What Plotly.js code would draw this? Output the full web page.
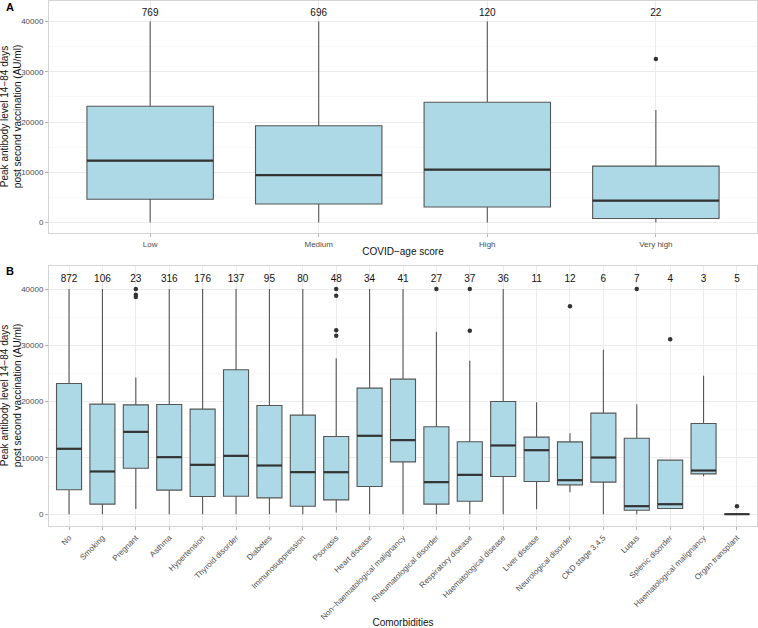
<!DOCTYPE html>
<html>
<head>
<meta charset="utf-8">
<script src="https://cdn.plot.ly/plotly-3.0.1.min.js"></script>
<style>html,body{margin:0;padding:0;background:#fff;}#chart{width:758px;height:628px;}</style>
</head>
<body>
<div id="chart"></div>
<script>
// ---- Panel A: COVID-age score ----
const ageCats = ["Low", "Medium", "High", "Very high"];
const ageN = [769, 696, 120, 22];
const ageQ1 = [4620, 3690, 3100, 790];
const ageMed = [12300, 9440, 10520, 4360];
const ageQ3 = [23140, 19250, 23930, 11230];
const ageLo = [0, 0, 0, 0];
const ageHi = [40000, 40000, 40000, 22420];
const ageOutCat = [3];
const ageOutVal = [32540];

// ---- Panel B: Comorbidities ----
const comCats = ["No", "Smoking", "Pregnant", "Asthma", "Hypertension", "Thyroid disorder", "Diabetes",
  "Immunosuppression", "Psoriasis", "Heart disease", "Non−haematological malignancy",
  "Rheumatological disorder", "Respiratory disease", "Haematological disease", "Liver disease",
  "Neurological disorder", "CKD stage 3,4,5", "Lupus", "Splenic disorder",
  "Haematological malignancy", "Organ transplant"];
const comN = [872, 106, 23, 316, 176, 137, 95, 80, 48, 34, 41, 27, 37, 36, 11, 12, 6, 7, 4, 3, 5];
const comQ1 = [4330, 1780, 8170, 4270, 3140, 3200, 2900, 1420, 2540, 4920, 9300, 1780, 2310, 6700, 5800, 5210, 5690, 710, 1000, 7160, 0];
const comMed = [11620, 7590, 14630, 10130, 8770, 10370, 8650, 7470, 7460, 13930, 13160, 5690, 6990, 12210, 11370, 6040, 10070, 1420, 1770, 7760, 0];
const comQ3 = [23230, 19560, 19430, 19500, 18670, 25660, 19320, 17600, 13800, 22400, 24000, 15530, 12860, 20030, 13690, 12850, 17950, 13500, 9600, 16110, 0];
const comLo = [0, 0, 940, 0, 0, 0, 0, 0, 290, 0, 0, 0, 0, 0, 890, 3910, 0, 0, 1000, 6750, 0];
const comHi = [40000, 40000, 24290, 40000, 40000, 40000, 40000, 40000, 27730, 40000, 40000, 32420, 27260, 40000, 19910, 14400, 29200, 19550, 9600, 24590, 0];
const comOutCat = [2, 2, 2, 8, 8, 8, 8, 11, 12, 12, 15, 17, 18, 20];
const comOutVal = [40000, 38990, 38580, 40000, 38810, 32700, 31700, 40000, 40000, 32590, 36970, 40000, 31100, 1420];

const yTitleText = 'Peak antibody level 14−84 days<br>post second vaccination (AU/ml)';
const countY = 41700;
const boxW = 0.75;
const FONT = '"Liberation Sans", Arial, Helvetica, sans-serif';

function idx(arr) { return arr.map((_, i) => i); }

function panelTraces(cats, n, q1, med, q3, lo, hi, outCat, outVal, xa, ya) {
  const xs = idx(cats);
  const mx = [], my = [];
  xs.forEach((x, i) => { mx.push(x - boxW / 2, x + boxW / 2, null); my.push(med[i], med[i], null); });
  return [
    {type: 'box', x: xs, q1: q1, median: med, q3: q3, lowerfence: lo, upperfence: hi,
     width: boxW, whiskerwidth: 0, boxpoints: false, fillcolor: '#ADD8E6',
     line: {color: '#555555', width: 1.1}, xaxis: xa, yaxis: ya, hoverinfo: 'skip', showlegend: false},
    {type: 'scatter', mode: 'lines', x: mx, y: my, line: {color: '#333333', width: 2.2},
     xaxis: xa, yaxis: ya, hoverinfo: 'skip', showlegend: false},
    {type: 'scatter', mode: 'markers', x: outCat, y: outVal,
     marker: {color: '#333333', size: 4.5}, xaxis: xa, yaxis: ya, hoverinfo: 'skip', showlegend: false},
    {type: 'scatter', mode: 'text', x: xs, y: xs.map(() => countY), text: n.map(String),
     textposition: 'middle center', textfont: {size: 10, color: '#111111', family: FONT},
     cliponaxis: false, xaxis: xa, yaxis: ya, hoverinfo: 'skip', showlegend: false}
  ];
}

const data = [].concat(
  panelTraces(ageCats, ageN, ageQ1, ageMed, ageQ3, ageLo, ageHi, ageOutCat, ageOutVal, 'x', 'y'),
  panelTraces(comCats, comN, comQ1, comMed, comQ3, comLo, comHi, comOutCat, comOutVal, 'x2', 'y2')
);

const yCommon = {
  range: [-2100, 44100], tickvals: [0, 10000, 20000, 30000, 40000], ticktext: ['0', '10000', '20000', '30000', '40000'],
  showgrid: true, gridcolor: '#ebebeb', gridwidth: 1, zeroline: false,
  minor: {tick0: 5000, dtick: 10000, showgrid: true, gridcolor: '#f5f5f5', gridwidth: 0.6, ticks: ''},
  showline: true, mirror: true, linecolor: '#d4d4d4', linewidth: 1,
  ticks: 'outside', ticklen: 3, tickcolor: '#b3b3b3', tickwidth: 1,
  tickfont: {size: 8, color: '#4d4d4d', family: FONT},
  fixedrange: true
};
function xCommon(cats, title, angle, standoff) {
  return {
    range: [-0.6, cats.length - 0.4], tickvals: idx(cats), ticktext: cats, tickangle: angle,
    showgrid: true, gridcolor: '#ebebeb', gridwidth: 1, zeroline: false,
    showline: true, mirror: true, linecolor: '#d4d4d4', linewidth: 1,
    ticks: 'outside', ticklen: 3, tickcolor: '#b3b3b3', tickwidth: 1,
    tickfont: {size: 8, color: '#4d4d4d', family: FONT},
    title: {text: title, font: {size: 10, color: '#111111', family: FONT}, standoff: standoff},
    fixedrange: true
  };
}

function yTitleAnn(yc) {
  return {text: yTitleText, xref: 'paper', yref: 'paper', x: -0.0535, y: yc, xanchor: 'center', yanchor: 'middle',
          textangle: -90, showarrow: false, font: {size: 10, color: '#111111', family: FONT}};
}

const layout = {
  width: 758, height: 628,
  margin: {l: 49, r: 1, t: 1, b: 102},
  paper_bgcolor: '#ffffff', plot_bgcolor: '#ffffff',
  font: {family: FONT},
  showlegend: false,
  xaxis: Object.assign(xCommon(ageCats, 'COVID−age score', 0, 0), {anchor: 'y', domain: [0, 1]}),
  yaxis: Object.assign({}, yCommon, {anchor: 'x', domain: [0.558, 1]}),
  xaxis2: Object.assign(xCommon(comCats, 'Comorbidities', -45, 1), {anchor: 'y2', domain: [0, 1]}),
  yaxis2: Object.assign({}, yCommon, {anchor: 'x2', domain: [0, 0.4952]}),
  annotations: [
    {text: '<b>A</b>', xref: 'paper', yref: 'paper', x: -0.064, y: 0.9886, xanchor: 'left', yanchor: 'middle',
     showarrow: false, font: {size: 11, color: '#000', family: FONT}},
    {text: '<b>B</b>', xref: 'paper', yref: 'paper', x: -0.064, y: 0.4857, xanchor: 'left', yanchor: 'middle',
     showarrow: false, font: {size: 11, color: '#000', family: FONT}},
    yTitleAnn(0.779),
    yTitleAnn(0.2476)
  ]
};

Plotly.newPlot('chart', data, layout, {displayModeBar: false, staticPlot: true});
</script>
</body>
</html>
